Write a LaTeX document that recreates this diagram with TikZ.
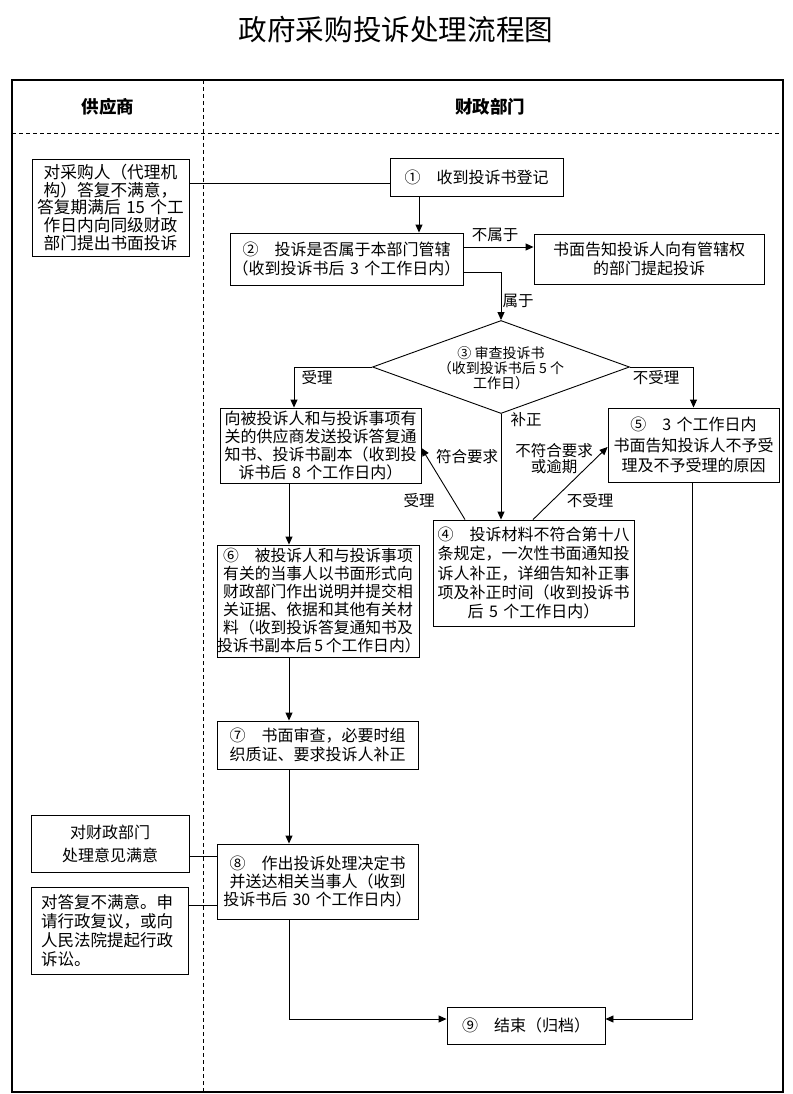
\documentclass[tikz,border=0pt]{standalone}
\usepackage{fontspec}
\setmainfont{Noto Sans CJK SC}
\usetikzlibrary{arrows.meta,shapes.geometric}
\begin{document}
\begin{tikzpicture}[x=1pt,y=-1pt,
  box/.style={draw, line width=0.9pt, inner xsep=0pt, inner ysep=0pt, align=center,
    font=\fontsize{16}{18.2}\selectfont},
  lab/.style={inner sep=0pt, font=\fontsize{15.5}{16.5}\selectfont, align=center},
  ln/.style={line width=0.9pt},
  arr/.style={line width=0.9pt, -{Triangle[length=8pt,width=7pt]}},
  dsh/.style={line width=0.8pt, dash pattern=on 4pt off 3pt}]
\useasboundingbox (0,0) rectangle (792,1094);
\fill[white] (0,0) rectangle (792,1094);

% title
\node[inner sep=0pt, font=\fontsize{28.6}{30}\selectfont] (title) at (396,30) {政府采购投诉处理流程图};

% frame
\node[draw, line width=1.2pt, minimum width=771pt, minimum height=1012pt, inner sep=0pt] (frame) at (397.5,586) {};
\coordinate (vtop) at (203,80);
\coordinate (vbot) at (203,1092);
\draw[dsh] (vtop) -- (vbot);
\coordinate (hl) at (12,133);
\coordinate (hr) at (783,133);
\draw[dsh] (hl) -- (hr);
\node[inner sep=0pt, font=\bfseries\fontsize{17.5}{18}\selectfont] (h1) at (108,107) {供应商};
\node[inner sep=0pt, font=\bfseries\fontsize{17.5}{18}\selectfont] (h2) at (490,107) {财政部门};

% boxes
\node[box, text width=157pt, minimum height=97pt, font=\fontsize{16.7}{17.8}\selectfont] (A) at (110.5,207.5)
  {对采购人（代理机\\构）答复不满意，\\答复期满后 15 个工\\作日内向同级财政\\部门提出书面投诉};
\node[box, text width=173pt, minimum height=38pt] (n1) at (476.5,177) {①　收到投诉书登记};
\node[box, text width=233pt, minimum height=52pt] (n2) at (346.5,259)
  {②　投诉是否属于本部门管辖\\（收到投诉书后 3 个工作日内）};
\node[box, text width=230pt, minimum height=50pt] (nb) at (649,259)
  {书面告知投诉人向有管辖权\\的部门提起投诉};
\node[draw, line width=0.9pt, diamond, minimum width=257pt, minimum height=93pt, inner sep=0pt] (d) at (501,367) {};
\node[lab, font=\fontsize{14}{15}\selectfont] (dt) at (501,368) {③ 审查投诉书\\（收到投诉书后 5 个\\工作日）};
\node[box, text width=201pt, minimum height=75pt, font=\fontsize{16}{17.7}\selectfont] (B) at (320.5,445.5)
  {向被投诉人和与投诉事项有\\关的供应商发送投诉答复通\\知书、投诉书副本（收到投\\诉书后 8 个工作日内）};
\node[box, text width=171pt, minimum height=74pt, font=\fontsize{16}{20.5}\selectfont] (b5) at (693.5,445)
  {⑤　3 个工作日内\\书面告知投诉人不予受\\理及不予受理的原因};
\node[box, text width=201pt, minimum height=106pt, font=\fontsize{16}{19.2}\selectfont] (b4) at (533.5,573)
  {④　投诉材料不符合第十八\\条规定，一次性书面通知投\\诉人补正，详细告知补正事\\项及补正时间（收到投诉书\\后 5 个工作日内）};
\node[box, text width=202pt, minimum height=112pt, font=\fontsize{15.8}{18}\selectfont] (b6) at (318,601)
  {⑥　被投诉人和与投诉事项\\有关的当事人以书面形式向\\财政部门作出说明并提交相\\关证据、依据和其他有关材\\料（收到投诉答复通知书及\\投诉书副本后\,5\,个工作日内）};
\node[box, text width=201pt, minimum height=48pt, font=\fontsize{16}{19}\selectfont] (b7) at (317.5,745)
  {⑦　书面审查，必要时组\\织质证、要求投诉人补正};
\node[box, text width=201pt, minimum height=75pt, font=\fontsize{16}{18.3}\selectfont] (b8) at (317.5,881.5)
  {⑧　作出投诉处理决定书\\并送达相关当事人（收到\\投诉书后 30 个工作日内）};
\node[box, text width=158pt, minimum height=57pt, font=\fontsize{16}{23}\selectfont] (C) at (110,843.5)
  {对财政部门\\处理意见满意};
\node[box, align=left, inner xsep=10pt, text width=137pt, minimum height=87pt, font=\fontsize{16.5}{19}\selectfont] (D) at (109.5,930.5)
  {对答复不满意。申\\请行政复议，或向\\人民法院提起行政\\诉讼。};
\node[box, text width=158pt, minimum height=37pt] (b9) at (526,1025.5) {⑨　结束（归档）};

% connectors
\draw[ln] (A.east |- 0,183) -- (n1.west |- 0,183);
\draw[arr] (n1.south -| 419,0) -- (n2.north -| 419,0);
\draw[arr] (n2.east |- 0,247) -- (nb.west |- 0,247);
\draw[arr] (n2.east |- 0,272) -| (d.north);
\draw[arr] (d.west) -| (B.north -| 294,0);
\draw[arr] (d.east) -| (b5.north);
\draw[arr] (d.south) -- (d.south |- b4.north);
\draw[arr] (b4.north -| 465,0) -- (B.east |- 0,448);
\draw[arr] (b4.north -| 533,0) -- (b5.west |- 0,447);
\draw[arr] (B.south -| 289,0) -- (b6.north -| 289,0);
\draw[arr] (b6.south -| 289,0) -- (b7.north -| 289,0);
\draw[arr] (b7.south -| 289,0) -- (b8.north -| 289,0);
\draw[ln] (C.east |- 0,856) -- (b8.west |- 0,856);
\draw[ln] (D.east |- 0,905) -- (b8.west |- 0,905);
\draw[arr] (b8.south -| 289,0) |- (b9.west |- 0,1019);
\draw[arr] (b5.south -| 692,0) |- (b9.east |- 0,1019);

% labels
\node[lab] (l1) at (495,235) {不属于};
\node[lab] (l2) at (518,301) {属于};
\node[lab] (l3) at (317,378) {受理};
\node[lab] (l4) at (656,378) {不受理};
\node[lab] (l5) at (526,420) {补正};
\node[lab] (l6) at (467,457) {符合要求};
\node[lab, font=\fontsize{15.5}{16}\selectfont] (l7) at (554,459) {不符合要求\\或逾期};
\node[lab] (l8) at (419,501) {受理};
\node[lab] (l9) at (590,501) {不受理};
\end{tikzpicture}
\end{document}
